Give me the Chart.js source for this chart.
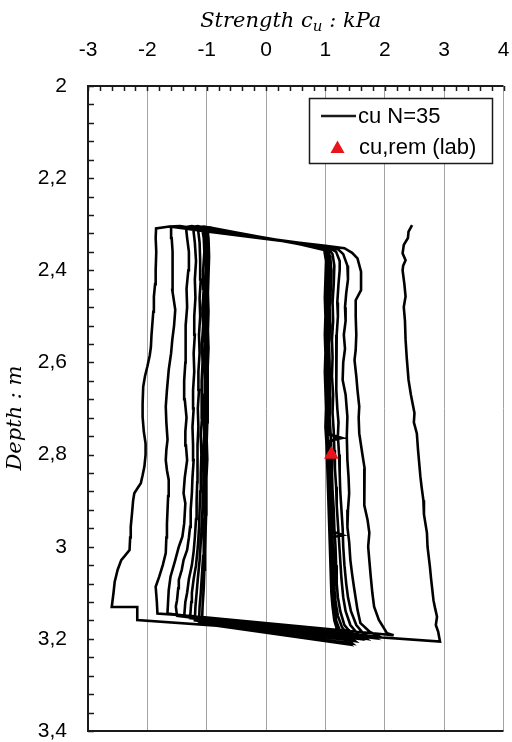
<!DOCTYPE html>
<html>
<head>
<meta charset="utf-8">
<script src="https://cdn.jsdelivr.net/npm/chart.js@4/dist/chart.umd.min.js"></script>
<style>
  html, body { margin: 0; padding: 0; background: #fff; }
  canvas { display: block; }
</style>
</head>
<body>
<canvas id="cu_chart" width="512" height="742"></canvas>
<script>
// cyclic test record, [strength cu (kPa), depth (m)] per point, in the order it was logged
const pen1 = [[2.46,2.302],[2.40,2.316],[2.39,2.33],[2.32,2.345],[2.30,2.363],[2.35,2.378],[2.31,2.39],[2.30,2.40],[2.33,2.43],[2.35,2.457],[2.32,2.48],[2.34,2.51],[2.35,2.55],[2.37,2.59],[2.40,2.638],[2.44,2.67],[2.50,2.71],[2.49,2.73],[2.54,2.754],[2.56,2.79],[2.60,2.848],[2.62,2.87],[2.65,2.899],[2.66,2.93],[2.71,2.97],[2.72,3.0],[2.76,3.043],[2.78,3.07],[2.82,3.116],[2.85,3.135],[2.88,3.152],[2.86,3.17],[2.90,3.185],[2.93,3.206]];
const ext1 = [[-2.17,3.159],[-2.17,3.131],[-2.60,3.131],[-2.57,3.10],[-2.55,3.076],[-2.50,3.05],[-2.44,3.029],[-2.38,3.02],[-2.30,3.007],[-2.29,2.98],[-2.28,2.957],[-2.26,2.93],[-2.24,2.90],[-2.22,2.884],[-2.15,2.87],[-2.11,2.862],[-2.08,2.845],[-2.05,2.826],[-2.03,2.80],[-2.03,2.776],[-2.06,2.75],[-2.08,2.718],[-2.08,2.69],[-2.07,2.653],[-2.04,2.63],[-2.00,2.609],[-1.96,2.585],[-1.94,2.566],[-1.93,2.54],[-1.915,2.515],[-1.90,2.49],[-1.89,2.457],[-1.87,2.43],[-1.86,2.40],[-1.85,2.36],[-1.86,2.33],[-1.853,2.309]];
const pen2 = [[-1.63,2.305],[-1.0,2.316],[0.2,2.335],[1.0,2.347],[1.32,2.352],[1.45,2.362],[1.54,2.374],[1.60,2.403],[1.60,2.443],[1.51,2.465],[1.51,2.50],[1.52,2.54],[1.51,2.573],[1.49,2.595],[1.52,2.63],[1.54,2.66],[1.57,2.696],[1.56,2.72],[1.57,2.754],[1.62,2.797],[1.66,2.83],[1.65,2.877],[1.66,2.91],[1.71,2.942],[1.74,2.97],[1.72,3.0],[1.74,3.03],[1.76,3.06],[1.79,3.10],[1.82,3.13],[1.90,3.159],[2.04,3.188],[2.15,3.192]];
const ext2 = [[-1.30,3.15],[-1.83,3.145],[-1.84,3.12],[-1.86,3.087],[-1.80,3.065],[-1.74,3.04],[-1.69,3.014],[-1.68,2.98],[-1.67,2.95],[-1.66,2.92],[-1.65,2.89],[-1.64,2.855],[-1.67,2.834],[-1.69,2.812],[-1.68,2.79],[-1.66,2.768],[-1.68,2.73],[-1.69,2.696],[-1.67,2.66],[-1.64,2.616],[-1.60,2.58],[-1.58,2.551],[-1.55,2.52],[-1.53,2.486],[-1.56,2.46],[-1.58,2.443],[-1.57,2.40],[-1.58,2.36],[-1.59,2.33],[-1.60,2.305]];
const pen3 = [[-1.45,2.304],[-0.9,2.315],[0.25,2.335],[1.0,2.348],[1.22,2.355],[1.30,2.365],[1.37,2.39],[1.38,2.42],[1.35,2.45],[1.33,2.48],[1.34,2.51],[1.31,2.54],[1.33,2.57],[1.30,2.60],[1.29,2.638],[1.34,2.67],[1.37,2.718],[1.36,2.76],[1.37,2.812],[1.39,2.85],[1.40,2.884],[1.38,2.92],[1.37,2.957],[1.40,2.99],[1.42,3.029],[1.45,3.06],[1.48,3.087],[1.54,3.137],[1.59,3.166],[1.75,3.185],[1.92,3.196]];
const ext3 = [[-1.20,3.152],[-1.66,3.145],[-1.66,3.141],[-1.64,3.094],[-1.61,3.065],[-1.53,3.029],[-1.47,3.0],[-1.41,2.978],[-1.38,2.95],[-1.36,2.906],[-1.39,2.884],[-1.37,2.85],[-1.33,2.812],[-1.35,2.78],[-1.36,2.75],[-1.34,2.72],[-1.37,2.68],[-1.38,2.64],[-1.36,2.60],[-1.35,2.56],[-1.36,2.52],[-1.33,2.48],[-1.34,2.44],[-1.31,2.40],[-1.30,2.36],[-1.33,2.33],[-1.35,2.306]];
const pen4 = [[-1.25,2.304],[-0.85,2.314],[0.3,2.336],[1.05,2.35],[1.18,2.36],[1.24,2.38],[1.24,2.40],[1.22,2.43],[1.20,2.47],[1.21,2.50],[1.19,2.54],[1.18,2.58],[1.19,2.62],[1.18,2.66],[1.20,2.70],[1.22,2.73],[1.21,2.76],[1.23,2.80],[1.24,2.84],[1.25,2.88],[1.27,2.92],[1.29,2.96],[1.30,3.0],[1.32,3.04],[1.35,3.08],[1.38,3.11],[1.43,3.14],[1.52,3.17],[1.65,3.19],[1.80,3.198]];
const ext4 = [[-1.10,3.156],[-1.50,3.15],[-1.52,3.13],[-1.50,3.116],[-1.48,3.09],[-1.47,3.072],[-1.42,3.05],[-1.39,3.029],[-1.33,3.007],[-1.30,2.98],[-1.28,2.957],[-1.27,2.92],[-1.25,2.884],[-1.24,2.85],[-1.22,2.812],[-1.23,2.78],[-1.24,2.74],[-1.22,2.70],[-1.23,2.66],[-1.21,2.62],[-1.22,2.58],[-1.20,2.54],[-1.21,2.50],[-1.19,2.46],[-1.20,2.42],[-1.18,2.38],[-1.20,2.34],[-1.23,2.306]];
const pen5 = [[-1.15,2.304],[-0.9,2.312],[0.35,2.338],[1.05,2.352],[1.12,2.365],[1.15,2.39],[1.14,2.43],[1.12,2.47],[1.13,2.51],[1.11,2.55],[1.12,2.59],[1.11,2.63],[1.13,2.67],[1.12,2.71],[1.14,2.75],[1.15,2.79],[1.16,2.83],[1.18,2.87],[1.19,2.91],[1.21,2.95],[1.23,2.99],[1.25,3.03],[1.27,3.07],[1.30,3.11],[1.34,3.14],[1.42,3.17],[1.55,3.19],[1.68,3.20]];
const ext5 = [[-1.05,3.158],[-1.38,3.152],[-1.36,3.12],[-1.33,3.10],[-1.30,3.07],[-1.25,3.04],[-1.22,3.01],[-1.20,2.98],[-1.18,2.94],[-1.17,2.90],[-1.16,2.86],[-1.15,2.82],[-1.16,2.78],[-1.14,2.74],[-1.15,2.70],[-1.13,2.66],[-1.14,2.62],[-1.12,2.58],[-1.13,2.54],[-1.11,2.50],[-1.12,2.46],[-1.10,2.42],[-1.11,2.38],[-1.12,2.34],[-1.15,2.307]];
const pen6 = [[-1.05,2.305],[-0.8,2.313],[0.4,2.339],[1.02,2.353],[1.08,2.37],[1.10,2.40],[1.09,2.44],[1.07,2.48],[1.08,2.52],[1.06,2.56],[1.07,2.60],[1.07,2.64],[1.08,2.68],[1.07,2.72],[1.09,2.76],[1.10,2.80],[1.11,2.84],[1.12,2.88],[1.14,2.92],[1.15,2.96],[1.17,3.00],[1.18,3.04],[1.19,3.08],[1.21,3.11],[1.25,3.14],[1.32,3.17],[1.45,3.19],[1.58,3.20]];
const ext6 = [[-0.95,3.16],[-1.28,3.155],[-1.26,3.12],[-1.25,3.10],[-1.22,3.07],[-1.18,3.04],[-1.15,3.00],[-1.13,2.96],[-1.12,2.92],[-1.11,2.88],[-1.10,2.84],[-1.09,2.80],[-1.10,2.76],[-1.08,2.72],[-1.09,2.68],[-1.08,2.64],[-1.07,2.60],[-1.08,2.56],[-1.06,2.52],[-1.07,2.48],[-1.05,2.44],[-1.06,2.40],[-1.04,2.36],[-1.05,2.33],[-1.08,2.307]];
const pen7 = [[-1.0,2.306],[-0.7,2.314],[0.45,2.34],[1.0,2.354],[1.05,2.37],[1.07,2.40],[1.05,2.44],[1.04,2.48],[1.05,2.52],[1.03,2.56],[1.04,2.60],[1.03,2.64],[1.05,2.68],[1.04,2.72],[1.05,2.755],[1.28,2.764],[1.06,2.77],[1.07,2.81],[1.08,2.85],[1.09,2.89],[1.10,2.93],[1.11,2.97],[1.13,3.01],[1.14,3.05],[1.15,3.09],[1.17,3.12],[1.21,3.15],[1.28,3.175],[1.40,3.195],[1.50,3.205]];
const ext7 = [[-0.9,3.165],[-1.20,3.16],[-1.19,3.13],[-1.17,3.10],[-1.15,3.07],[-1.12,3.03],[-1.10,2.99],[-1.08,2.95],[-1.07,2.91],[-1.06,2.87],[-1.05,2.83],[-1.06,2.79],[-1.04,2.75],[-1.05,2.71],[-1.04,2.67],[-1.03,2.63],[-1.04,2.59],[-1.03,2.55],[-1.02,2.51],[-1.03,2.47],[-1.02,2.43],[-1.01,2.39],[-1.02,2.35],[-1.04,2.308]];
const pen8 = [[-0.95,2.307],[-0.6,2.316],[0.5,2.342],[1.0,2.355],[1.03,2.37],[1.04,2.40],[1.03,2.44],[1.02,2.48],[1.03,2.52],[1.01,2.56],[1.02,2.60],[1.01,2.64],[1.03,2.68],[1.02,2.72],[1.03,2.76],[1.04,2.80],[1.05,2.84],[1.06,2.88],[1.07,2.92],[1.08,2.965],[1.29,2.975],[1.09,2.98],[1.10,3.02],[1.11,3.06],[1.13,3.10],[1.15,3.13],[1.18,3.16],[1.25,3.185],[1.35,3.20],[1.45,3.21]];
const ext8 = [[-0.85,3.17],[-1.13,3.165],[-1.12,3.13],[-1.10,3.10],[-1.08,3.06],[-1.06,3.02],[-1.05,2.98],[-1.04,2.94],[-1.03,2.90],[-1.02,2.86],[-1.03,2.82],[-1.01,2.78],[-1.02,2.74],[-1.01,2.70],[-1.00,2.66],[-1.01,2.62],[-1.00,2.58],[-0.99,2.54],[-1.00,2.50],[-0.99,2.46],[-1.00,2.42],[-0.98,2.38],[-0.99,2.34],[-1.01,2.309]];
const pen9 = [[-0.92,2.308],[-0.5,2.318],[0.55,2.343],[0.98,2.356],[1.01,2.38],[1.00,2.42],[0.99,2.46],[1.00,2.50],[0.99,2.54],[1.00,2.58],[0.99,2.62],[1.00,2.66],[1.01,2.70],[1.00,2.74],[1.02,2.78],[1.03,2.82],[1.04,2.86],[1.05,2.90],[1.06,2.94],[1.07,2.98],[1.08,3.02],[1.09,3.06],[1.10,3.10],[1.12,3.13],[1.15,3.16],[1.22,3.19],[1.32,3.205],[1.40,3.212]];
const ext9 = [[-0.8,3.172],[-1.08,3.168],[-1.07,3.13],[-1.05,3.09],[-1.04,3.05],[-1.03,3.01],[-1.02,2.97],[-1.01,2.93],[-1.00,2.89],[-1.01,2.85],[-0.99,2.81],[-1.00,2.77],[-0.99,2.73],[-0.98,2.69],[-0.99,2.65],[-0.98,2.61],[-0.97,2.57],[-0.98,2.53],[-0.97,2.49],[-0.98,2.45],[-0.97,2.41],[-0.96,2.37],[-0.97,2.33],[-0.99,2.31]];

// remoulded strength from the lab
const labStrength = [1.1];
const labDepth = [2.8];

const xTicks = { min: -3, max: 4, step: 0.2 };
const yTicks = { min: 2, max: 3.4, step: 0.04 };

const legs = [pen1, ext1, pen2, ext2, pen3, ext3, pen4, ext4, pen5, ext5, pen6, ext6, pen7, ext7, pen8, ext8, pen9, ext9];
const trace = [];
legs.forEach(leg => leg.forEach(p => trace.push({ x: p[0], y: p[1] })));
const labPoints = labStrength.map((v, i) => ({ x: v, y: labDepth[i] }));

const AXIS = '#1a1a1a';
const isInt = v => Math.abs(v - Math.round(v)) < 1e-6;
const isMajorY = v => Math.round(v * 100) % 20 === 0;

// keep label padding from shrinking the plot area
const noPad = s => { s.paddingLeft = 0; s.paddingRight = 0; s.paddingTop = 0; s.paddingBottom = 0; };

Chart.defaults.font.family = '"Liberation Sans", Arial, sans-serif';
Chart.defaults.color = '#000';

// inward tick marks, frame, titles and the boxed legend
const extras = {
  id: 'extras',
  afterDraw(chart) {
    const { ctx, chartArea: a, scales: { x, y } } = chart;
    ctx.save();
    ctx.strokeStyle = AXIS;
    ctx.lineWidth = 1.5;
    ctx.beginPath();
    x.ticks.forEach(t => {
      const px = Math.round(x.getPixelForValue(t.value)) + 0.5;
      ctx.moveTo(px, a.top); ctx.lineTo(px, a.top + 5);
    });
    y.ticks.forEach(t => {
      const py = Math.round(y.getPixelForValue(t.value)) + 0.5;
      ctx.moveTo(a.left, py); ctx.lineTo(a.left + 6, py);
    });
    ctx.stroke();

    ctx.lineWidth = 2;
    ctx.beginPath();
    ctx.moveTo(a.right, a.top); ctx.lineTo(a.left, a.top);
    ctx.lineTo(a.left, a.bottom); ctx.lineTo(a.right, a.bottom);
    ctx.stroke();

    // x title with subscript
    ctx.fillStyle = '#000';
    ctx.textBaseline = 'alphabetic';
    ctx.textAlign = 'left';
    const big = 'italic 21px "DejaVu Serif", serif';
    const small = 'italic 15px "DejaVu Serif", serif';
    const parts = [['Strength c', big, 0], ['u', small, 4], [' : kPa', big, 0]];
    let w = 0;
    parts.forEach(p => { ctx.font = p[1]; w += ctx.measureText(p[0]).width; });
    let tx = (a.left + a.right) / 2 - w / 2 - 5;
    parts.forEach(p => {
      ctx.font = p[1];
      ctx.fillText(p[0], tx, 27 + p[2]);
      tx += ctx.measureText(p[0]).width;
    });

    // y title
    ctx.save();
    ctx.translate(16, 418);
    ctx.rotate(-Math.PI / 2);
    ctx.font = big;
    ctx.textAlign = 'center';
    ctx.textBaseline = 'middle';
    ctx.fillText('Depth : m', 0, 0);
    ctx.restore();

    // legend
    ctx.fillStyle = '#fff';
    ctx.fillRect(309.5, 98.5, 183, 65);
    ctx.strokeStyle = AXIS;
    ctx.lineWidth = 1.5;
    ctx.strokeRect(309.5, 98.5, 183, 65);
    ctx.lineWidth = 2.5;
    ctx.beginPath();
    ctx.moveTo(321, 116); ctx.lineTo(356, 116);
    ctx.stroke();
    ctx.fillStyle = '#e8141c';
    ctx.beginPath();
    ctx.moveTo(337.5, 140.5); ctx.lineTo(344.5, 153); ctx.lineTo(330.5, 153);
    ctx.closePath();
    ctx.fill();
    ctx.fillStyle = '#000';
    ctx.font = '22px "Liberation Sans", Arial, sans-serif';
    ctx.textBaseline = 'middle';
    ctx.textAlign = 'left';
    ctx.fillText('cu N=35', 358, 117);
    ctx.fillText('cu,rem (lab)', 359, 148);
    ctx.restore();
  }
};

new Chart(document.getElementById('cu_chart').getContext('2d'), {
  type: 'scatter',
  data: {
    datasets: [
      {
        label: 'cu,rem (lab)',
        data: labPoints,
        pointStyle: 'triangle',
        pointRadius: 8.5,
        backgroundColor: '#e8141c',
        borderColor: '#e8141c',
        borderWidth: 0,
        order: 0
      },
      {
        label: 'cu N=35',
        data: trace,
        showLine: true,
        borderColor: '#000',
        borderWidth: 2.6,
        pointRadius: 0,
        tension: 0,
        fill: false,
        order: 1
      }
    ]
  },
  options: {
    responsive: false,
    animation: false,
    layout: { padding: { left: 0, top: 0, right: 5, bottom: 11 } },
    plugins: { legend: { display: false }, tooltip: { enabled: false } },
    scales: {
      x: {
        type: 'linear',
        position: 'top',
        min: xTicks.min,
        max: xTicks.max,
        afterFit: s => { s.height = 86; noPad(s); },
        ticks: {
          stepSize: xTicks.step,
          autoSkip: false,
          maxRotation: 0,
          padding: 23,
          font: { size: 21 },
          callback: v => isInt(v) ? String(Math.round(v)) : ''
        },
        grid: {
          drawTicks: false,
          color: c => isInt(c.tick.value) ? '#a3a3a3' : 'transparent',
          lineWidth: 1
        },
        border: { display: false }
      },
      y: {
        type: 'linear',
        reverse: true,
        min: yTicks.min,
        max: yTicks.max,
        afterFit: s => { s.width = 88; noPad(s); },
        ticks: {
          stepSize: yTicks.step,
          autoSkip: false,
          padding: 21,
          font: { size: 21 },
          callback: v => isMajorY(v) ? String(Number(v.toFixed(1))).replace('.', ',') : ''
        },
        grid: { display: false, drawTicks: false },
        border: { display: false }
      }
    }
  },
  plugins: [extras]
});
</script>
</body>
</html>
